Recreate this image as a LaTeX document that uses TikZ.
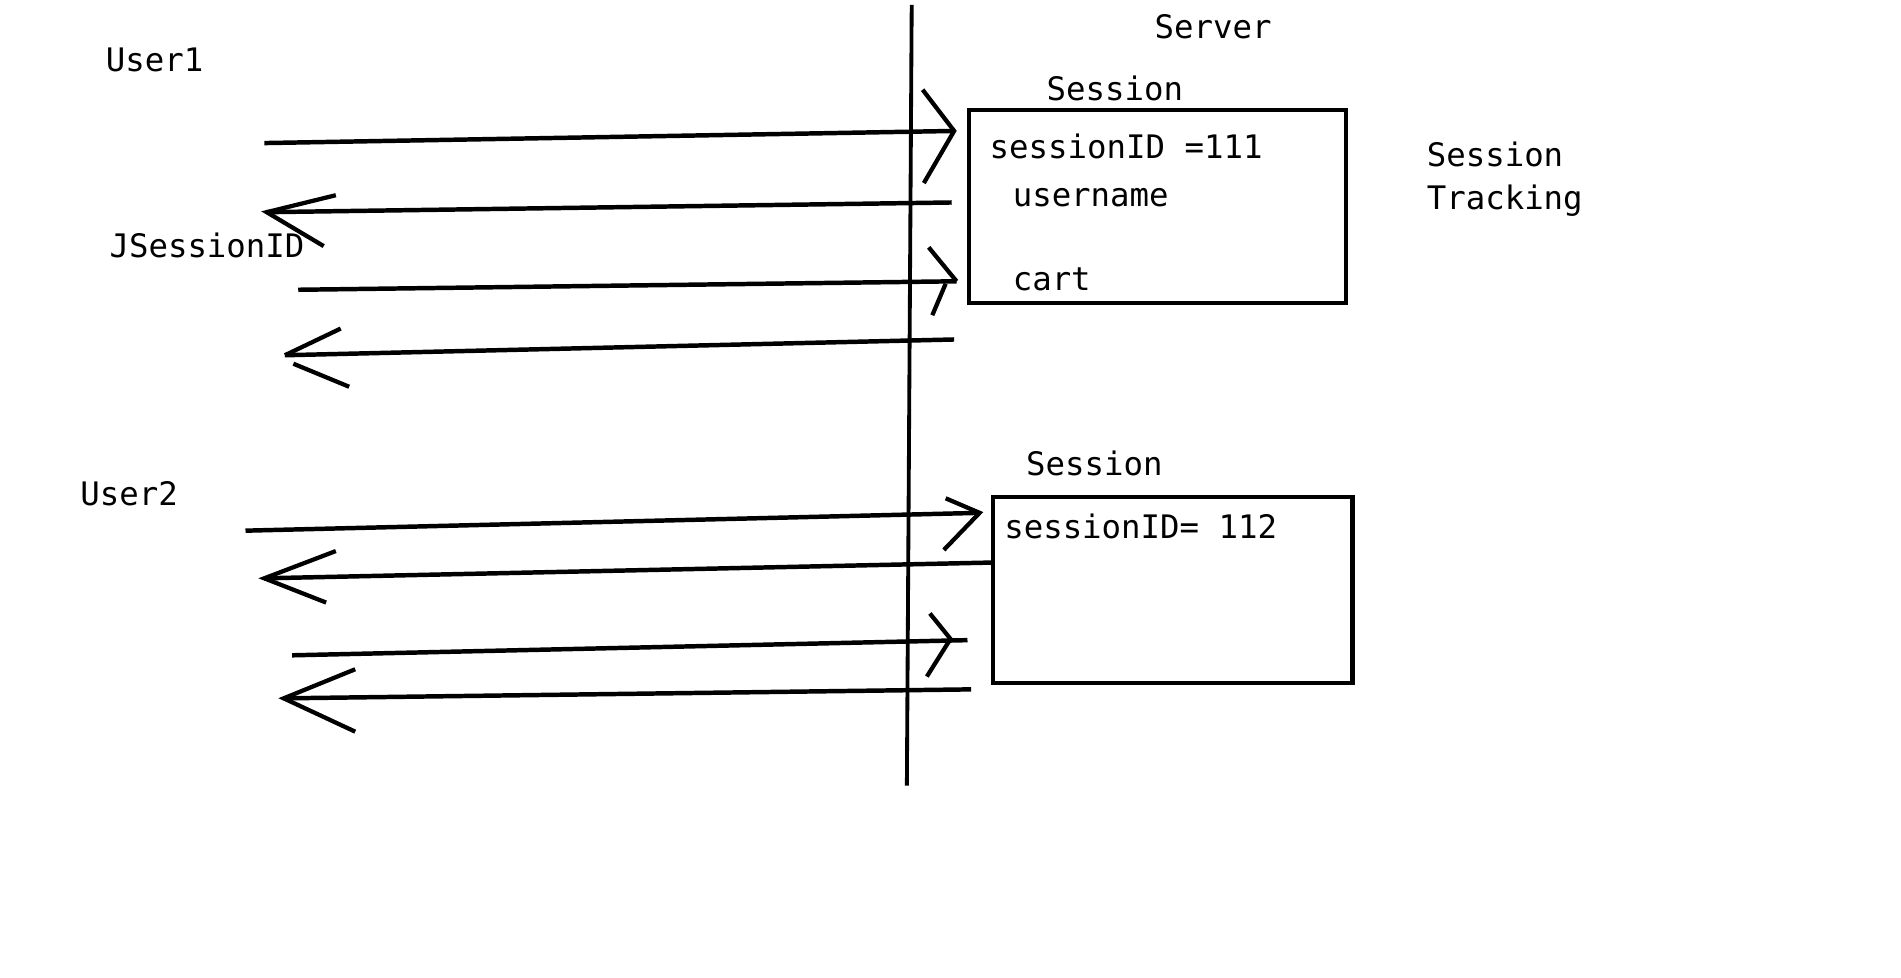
\documentclass[tikz,border=0pt]{standalone}
\usepackage{fontspec}
\setmonofont{DejaVu Sans Mono}
\usetikzlibrary{calc,positioning}

\begin{document}
\begin{tikzpicture}[
    x=0.02cm, y=-0.02cm,
    lbl/.style={font=\ttfamily\fontsize{15.2}{18}\selectfont, anchor=base west, inner sep=0pt},
    sessbox/.style={draw, line width=2pt, inner sep=0pt},
    msg/.style={line width=2.1pt},
    barb/.style={line width=2pt},
    wall/.style={line width=1.8pt}
  ]
  \fill[white] (0,0) rectangle (1568,806);
  \useasboundingbox (0,0) rectangle (1568,806);

  % Server boundary
  \coordinate (walltop) at (752,4);
  \coordinate (wallbot) at (748,648);
  \draw[wall] (walltop) -- (wallbot);
  \node[lbl] (server) at (952,31.6) {Server};

  % Users
  \node[lbl] (user1) at (87,58.6) {User1};
  \node[lbl] (jsid) at (90,212) {JSessionID};
  \node[lbl] (user2) at (66,417) {User2};

  % Session of User1
  \node[sessbox, minimum width=6.21cm, minimum height=3.18cm] (box1) at (954.75,170.2) {};
  \node[lbl] (sess1) at (863,82.5) {Session};
  \node[lbl] (sid1) at (816,130.6) {sessionID =111};
  \node[lbl] (uname) at (835,170.5) {username};
  \node[lbl] (cart) at (835,240) {cart};

  % Session of User2
  \node[sessbox, minimum width=5.934cm, minimum height=3.068cm] (box2) at (967.35,486.9) {};
  \node[lbl] (sess2) at (846,391.8) {Session};
  \node[lbl] (sid2) at (828,444) {sessionID= 112};

  % Tracking label
  \node[lbl] (trk1) at (1176.5,137.5) {Session};
  \node[lbl] (trk2) at (1176.5,172.7) {Tracking};

  % User1 requests and responses
  \coordinate (a1s) at (218,118);  \coordinate (a1e) at (787,108);
  \coordinate (a2s) at (785,167);  \coordinate (a2e) at (220,175);
  \coordinate (a3s) at (246,239);  \coordinate (a3e) at (789,232);
  \coordinate (a4s) at (787,280);  \coordinate (a4e) at (235,293);
  \draw[msg] (a1s) -- (a1e);
  \draw[barb] (a1e) ++(-26,-34) -- (a1e) -- ++(-25,43);
  \draw[msg] (a2s) -- (a2e);
  \draw[barb] (a2e) ++(57,-14) -- (a2e) -- ++(47,28);
  \draw[msg] (a3s) -- (a3e);
  \draw[barb] (a3e) ++(-23,-28) -- (a3e);
  \draw[barb] (a3e) ++(-9,2) -- ++(-11,26);
  \draw[msg] (a4s) -- (a4e);
  \draw[barb] (a4e) ++(46,-22) -- (a4e);
  \draw[barb] (a4e) ++(7,7) -- ++(46,19);

  % User2 requests and responses
  \coordinate (a5s) at (202.5,437.7); \coordinate (a5e) at (808,423);
  \coordinate (a6s) at (818,464);     \coordinate (a6e) at (218,477);
  \coordinate (a7s) at (241,540.5);   \coordinate (a7e) at (798,528);
  \coordinate (a7h) at (784,527);
  \coordinate (a8s) at (801,568.6);   \coordinate (a8e) at (234,576);
  \draw[msg] (a5s) -- (a5e);
  \draw[barb] (a5e) ++(-28,-12) -- (a5e) -- ++(-29.5,30.6);
  \draw[msg] (a6s) -- (a6e);
  \draw[barb] (a6e) ++(59,-22.5) -- (a6e) -- ++(51,20);
  \draw[msg] (a7s) -- (a7e);
  \draw[barb] (a7h) ++(-17,-21) -- (a7h) -- ++(-19.5,31);
  \draw[msg] (a8s) -- (a8e);
  \draw[barb] (a8e) ++(59,-24) -- (a8e) -- ++(59,27.5);
\end{tikzpicture}
\end{document}
